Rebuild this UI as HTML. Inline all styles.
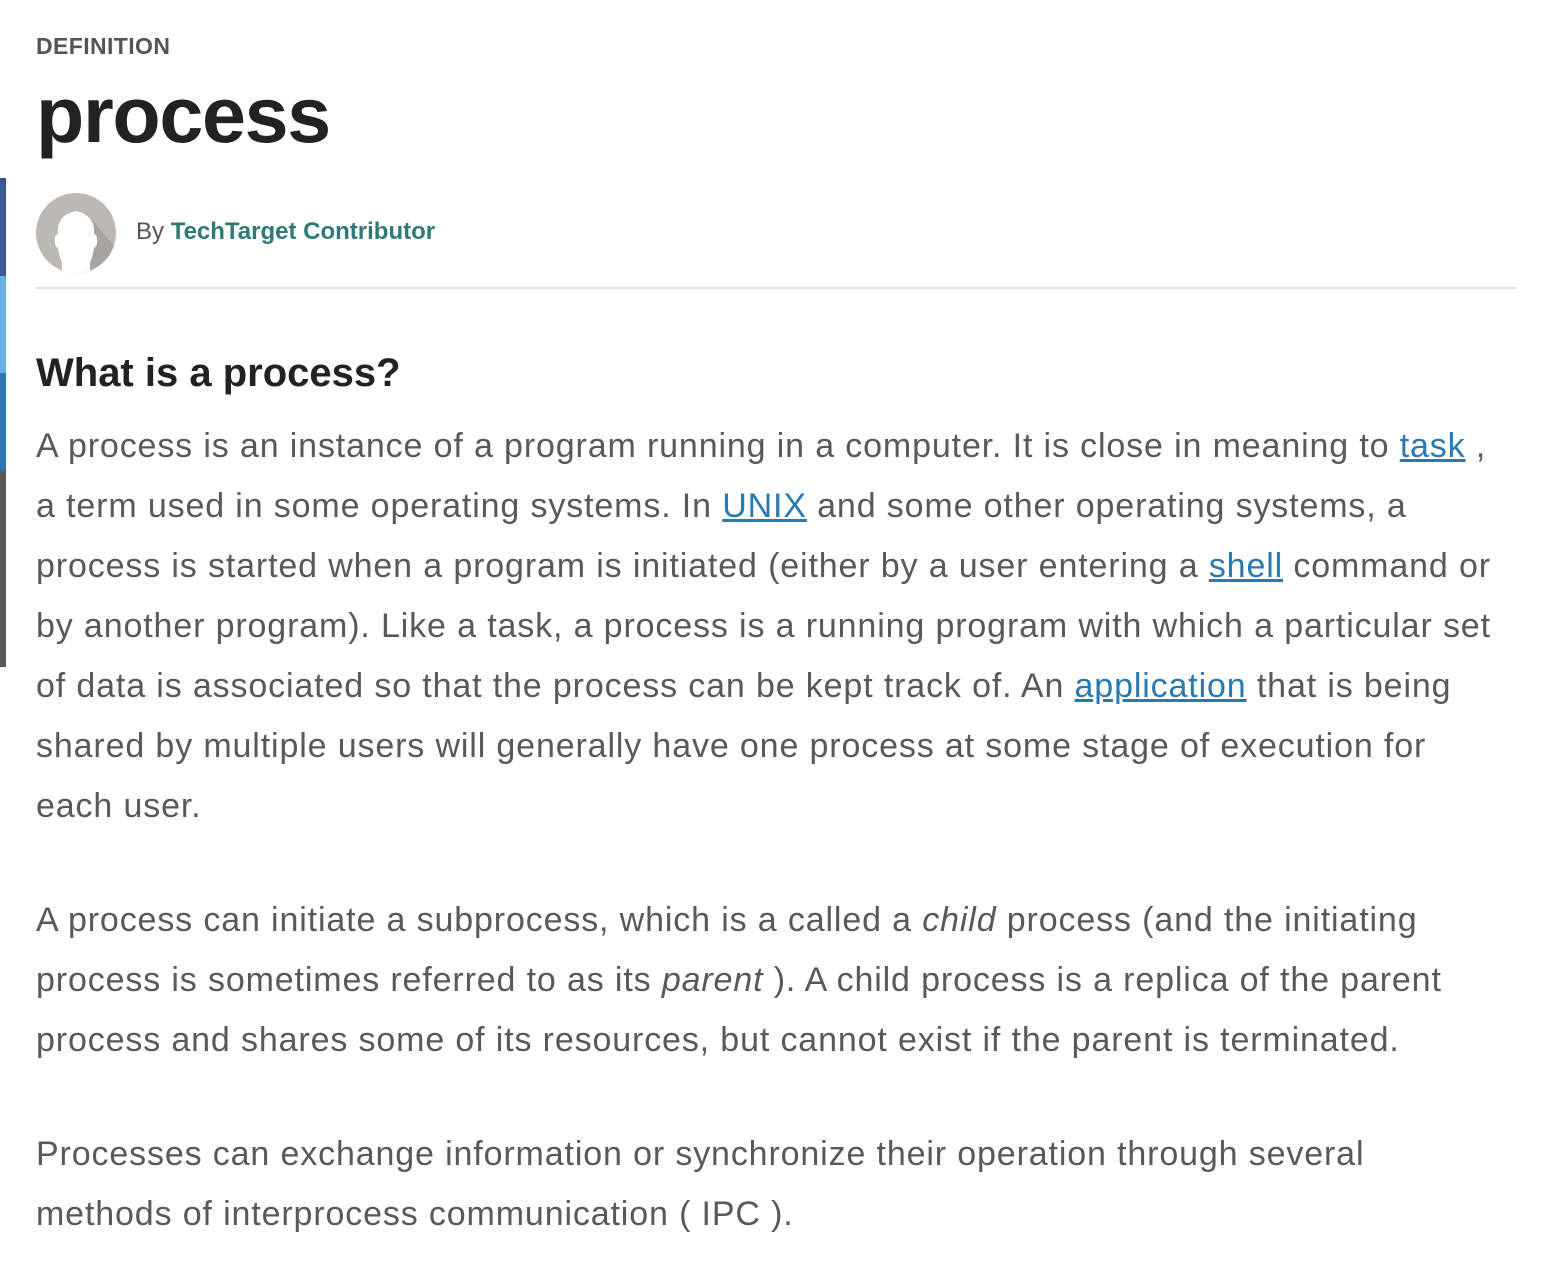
<!DOCTYPE html>
<html><head><meta charset="utf-8">
<style>
body{margin:0;width:1560px;height:1286px;background:#fff;position:relative;overflow:hidden;font-family:"Liberation Sans",Arial,sans-serif;}
.abs{position:absolute;white-space:nowrap;}
.ln{position:absolute;left:36px;height:60px;line-height:60px;font-size:34px;letter-spacing:0.86px;color:#595959;white-space:nowrap;}
a{color:#2a79b0;text-decoration:underline;}
</style></head><body>
<div class="abs" style="left:0;top:178px;width:6px;height:98px;background:#3b5693"></div>
<div class="abs" style="left:0;top:276px;width:6px;height:97px;background:#6aaee8"></div>
<div class="abs" style="left:0;top:373px;width:6px;height:97px;background:#2c78b4"></div>
<div class="abs" style="left:0;top:470px;width:6px;height:197px;background:#5a5a5a"></div>

<div class="abs" style="left:36px;top:32px;font-size:23px;letter-spacing:0.4px;font-weight:bold;color:#555;line-height:28px">DEFINITION</div>
<div class="abs" style="left:36px;top:69px;font-size:79px;font-weight:bold;color:#222;line-height:92px;letter-spacing:-1.3px">process</div>

<svg class="abs" style="left:36px;top:193px" width="80" height="80" viewBox="0 0 80 80">
<defs><clipPath id="c"><circle cx="40" cy="40" r="40"/></clipPath></defs>
<g clip-path="url(#c)"><rect width="80" height="80" fill="#bcb9b5"/>
<polygon points="50,20 80,55 80,80 40,80" fill="#a8a5a1"/>
<path d="M26 80 L26 70 Q23 62 22 55 Q18 53 19 45 Q20 40 22 42 Q20 22 40 18 Q60 22 58 42 Q60 40 61 45 Q62 53 58 55 Q57 62 54 70 L54 80 Z" fill="#fff"/></g></svg>
<div class="abs" style="left:136px;top:218px;font-size:24px;line-height:28px;color:#555">By <a style="color:#2f7a78;font-weight:bold;text-decoration:none">TechTarget Contributor</a></div>
<div class="abs" style="left:36px;top:287px;width:1480px;height:2px;background:#e2e2e2"></div>

<div class="abs" style="left:36px;top:350px;font-size:40px;font-weight:bold;color:#222;line-height:46px">What is a process?</div>

<div>
<div class="ln" style="top:416px">A process is an instance of a program running in a computer. It is close in meaning to <a>task</a> ,</div>
<div class="ln" style="top:476px">a term used in some operating systems. In <a>UNIX</a> and some other operating systems, a</div>
<div class="ln" style="top:536px">process is started when a program is initiated (either by a user entering a <a>shell</a> command or</div>
<div class="ln" style="top:596px">by another program). Like a task, a process is a running program with which a particular set</div>
<div class="ln" style="top:656px">of data is associated so that the process can be kept track of. An <a>application</a> that is being</div>
<div class="ln" style="top:716px">shared by multiple users will generally have one process at some stage of execution for</div>
<div class="ln" style="top:776px">each user.</div>
</div>
<div>
<div class="ln" style="top:890px">A process can initiate a subprocess, which is a called a <i>child</i> process (and the initiating</div>
<div class="ln" style="top:950px">process is sometimes referred to as its <i>parent</i> ). A child process is a replica of the parent</div>
<div class="ln" style="top:1010px">process and shares some of its resources, but cannot exist if the parent is terminated.</div>
</div>
<div>
<div class="ln" style="top:1124px">Processes can exchange information or synchronize their operation through several</div>
<div class="ln" style="top:1184px">methods of interprocess communication ( IPC ).</div>
</div>
</body></html>
